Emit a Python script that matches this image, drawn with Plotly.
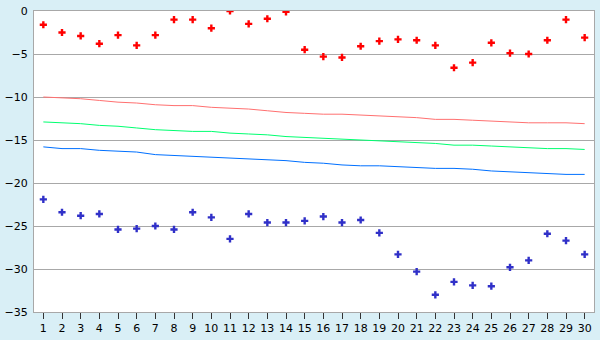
import plotly.graph_objects as go

days = list(range(1, 31))
day_labels = [str(d) for d in days]

high_pts = [-1.6, -2.5, -2.9, -3.8, -2.8, -4.0, -2.8, -1.0, -1.0, -2.0,
            0.0, -1.5, -0.9, -0.1, -4.5, -5.3, -5.4, -4.1, -3.5, -3.3,
            -3.4, -4.0, -6.6, -6.0, -3.7, -4.9, -5.0, -3.4, -1.0, -3.1]
low_pts = [-21.9, -23.4, -23.8, -23.6, -25.4, -25.3, -25.0, -25.4, -23.4, -24.0,
           -26.5, -23.6, -24.6, -24.6, -24.4, -23.9, -24.6, -24.3, -25.8, -28.3,
           -30.3, -33.0, -31.5, -31.9, -32.0, -29.8, -29.0, -25.9, -26.7, -28.3]
red_line = [-10.0, -10.1, -10.2, -10.4, -10.6, -10.7, -10.9, -11.0, -11.0, -11.2,
            -11.3, -11.4, -11.6, -11.8, -11.9, -12.0, -12.0, -12.1, -12.2, -12.3,
            -12.4, -12.6, -12.6, -12.7, -12.8, -12.9, -13.0, -13.0, -13.0, -13.1]
green_line = [-12.9, -13.0, -13.1, -13.3, -13.4, -13.6, -13.8, -13.9, -14.0, -14.0,
              -14.2, -14.3, -14.4, -14.6, -14.7, -14.8, -14.9, -15.0, -15.1, -15.2,
              -15.3, -15.4, -15.6, -15.6, -15.7, -15.8, -15.9, -16.0, -16.0, -16.1]
blue_line = [-15.8, -16.0, -16.0, -16.2, -16.3, -16.4, -16.7, -16.8, -16.9, -17.0,
             -17.1, -17.2, -17.3, -17.4, -17.6, -17.7, -17.9, -18.0, -18.0, -18.1,
             -18.2, -18.3, -18.3, -18.4, -18.6, -18.7, -18.8, -18.9, -19.0, -19.0]

y_ticks = [0, -5, -10, -15, -20, -25, -30, -35]

fig = go.Figure()
fig.add_trace(go.Scatter(x=days, y=red_line, mode="lines",
                         line=dict(color="#FF7070", width=1), hoverinfo="skip"))
fig.add_trace(go.Scatter(x=days, y=green_line, mode="lines",
                         line=dict(color="#00FF70", width=1), hoverinfo="skip"))
fig.add_trace(go.Scatter(x=days, y=blue_line, mode="lines",
                         line=dict(color="#0070FF", width=1), hoverinfo="skip"))
fig.add_trace(go.Scatter(x=days, y=high_pts, mode="markers",
                         marker=dict(symbol="cross", size=6, color="#FF0000",
                                     line=dict(width=0))))
fig.add_trace(go.Scatter(x=days, y=low_pts, mode="markers",
                         marker=dict(symbol="cross", size=6, color="#3030C8",
                                     line=dict(width=0))))

fig.update_layout(
    width=600, height=340,
    margin=dict(l=25, r=5, t=5, b=20),
    paper_bgcolor="#D9EFF6",
    plot_bgcolor="#FFFFFF",
    showlegend=False,
    font=dict(family="DejaVu Sans", size=11, color="#000000"),
)
fig.update_xaxes(
    range=[0.5, 30.5],
    tickvals=days, ticktext=day_labels,
    showgrid=False, zeroline=False,
    showline=True, linecolor="#A8A8A8", linewidth=1, mirror=True,
    ticks="outside", ticklen=6, tickcolor="#333333", tickwidth=1,
    tickfont=dict(size=11),
)
fig.update_yaxes(
    range=[-35, 0],
    tickvals=y_ticks,
    showgrid=True, gridcolor="#A8A8A8", gridwidth=1,
    zeroline=False,
    showline=True, linecolor="#A8A8A8", linewidth=1, mirror=True,
    ticks="", ticklabelstandoff=3, ticklabeloverflow="allow",
    tickfont=dict(size=11),
)

fig.write_html("out.html")
